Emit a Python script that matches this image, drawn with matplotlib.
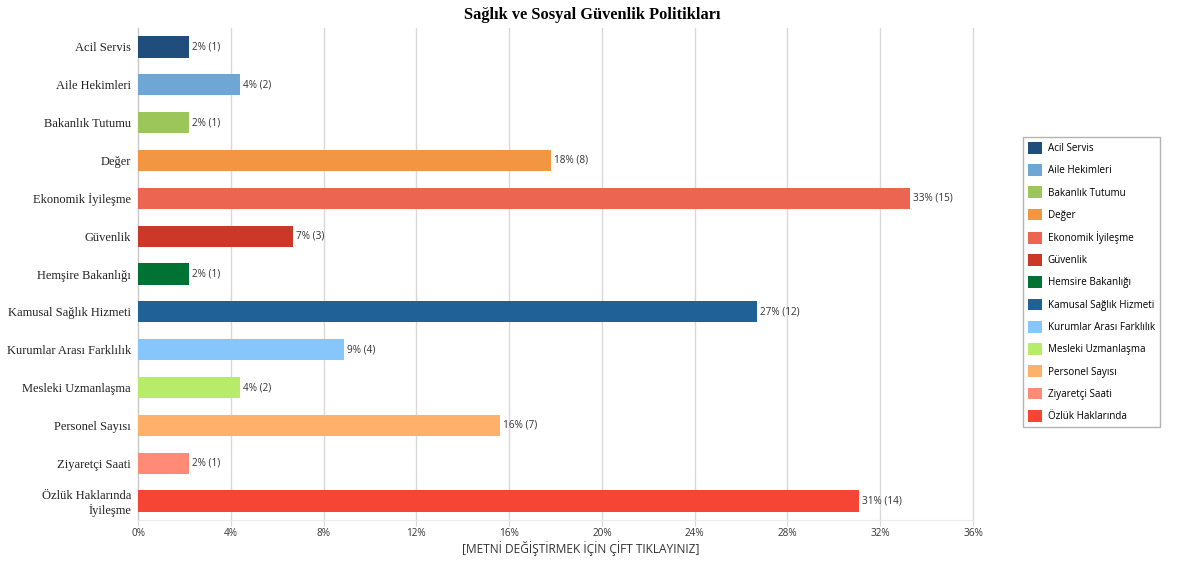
import matplotlib.pyplot as plt
from matplotlib.patches import Patch

plt.rcParams['font.family'] = ['Open Sans', 'DejaVu Sans']

# data
categories = ['Acil Servis', 'Aile Hekimleri', 'Bakanlık Tutumu', 'Değer',
              'Ekonomik İyileşme', 'Güvenlik', 'Hemşire Bakanlığı',
              'Kamusal Sağlık Hizmeti', 'Kurumlar Arası Farklılık',
              'Mesleki Uzmanlaşma', 'Personel Sayısı', 'Ziyaretçi Saati',
              'Özlük Haklarında\nİyileşme']
legend_labels = ['Acil Servis', 'Aile Hekimleri', 'Bakanlık Tutumu', 'Değer',
                 'Ekonomik İyileşme', 'Güvenlik', 'Hemsire Bakanlığı',
                 'Kamusal Sağlık Hizmeti', 'Kurumlar Arası Farklılık',
                 'Mesleki Uzmanlaşma', 'Personel Sayısı', 'Ziyaretçi Saati',
                 'Özlük Haklarında']
percents = [2.2, 4.4, 2.2, 17.8, 33.3, 6.7, 2.2, 26.7, 8.9, 4.4, 15.6, 2.2, 31.1]
counts = [1, 2, 1, 8, 15, 3, 1, 12, 4, 2, 7, 1, 14]
xticks = [0, 4, 8, 12, 16, 20, 24, 28, 32, 36]

colors = ['#1f4e7d', '#6ea6d6', '#9cc55a', '#f39641', '#ec6550', '#cb3828',
          '#007234', '#206197', '#86c6fa', '#b7ec6b', '#ffb06a', '#ff8a76',
          '#f64535']

fig = plt.figure(figsize=(11.84, 5.61), dpi=100)
ax = fig.add_axes([138/1184, 1-520/561, (973-138)/1184, (520-28)/561])

y = list(range(len(categories)))
ax.barh(y, percents, height=0.56, color=colors, zorder=3)
for yi, p, c in zip(y, percents, counts):
    ax.text(p + 0.12, yi, f'{round(p)}% ({c})', va='center', ha='left',
            fontsize=7.2, color='#333333', zorder=4)

ax.set_ylim(len(categories) - 0.5, -0.5)
ax.set_xlim(0, 36)
ax.set_xticks(xticks)
ax.set_xticklabels([f'{t}%' for t in xticks], fontsize=7.2, color='#333333')
ax.set_yticks(y)
ax.set_yticklabels(categories, fontfamily='Liberation Serif', fontsize=9,
                   color='#222222')
ax.tick_params(axis='y', length=0, pad=5)
ax.tick_params(axis='x', length=4, color='#d9d9d9', pad=2)
ax.grid(axis='x', color='#d9d9d9', linewidth=1, zorder=0)
for gl in ax.get_xgridlines():
    gl.set_clip_on(False)
for s in ['top', 'right']:
    ax.spines[s].set_visible(False)
ax.spines['left'].set_color('#c8c8c8')
ax.spines['bottom'].set_color('#ececec')

fig.text(0.5, 1 - 15/561, 'Sağlık ve Sosyal Güvenlik Politikları',
         ha='center', va='center', fontfamily='Liberation Serif',
         fontweight='bold', fontsize=11.8)
fig.text(581/1184, 1 - 549/561, '[METNİ DEĞİŞTİRMEK İÇİN ÇİFT TIKLAYINIZ]',
         ha='center', va='center', fontsize=8.6, color='#333333')

handles = [Patch(facecolor=c, edgecolor='none') for c in colors]
leg = fig.legend(handles, legend_labels, loc='upper left',
                 bbox_to_anchor=(1023/1184, 1 - 137/561), fontsize=7.1,
                 frameon=True, fancybox=False, handlelength=1.45,
                 handleheight=1.45, labelspacing=1.03, handletextpad=0.55,
                 borderpad=0.5, borderaxespad=0)
leg.get_frame().set_edgecolor('#a0a0a0')
leg.get_frame().set_linewidth(1)

fig.savefig('out.png', dpi=100)
